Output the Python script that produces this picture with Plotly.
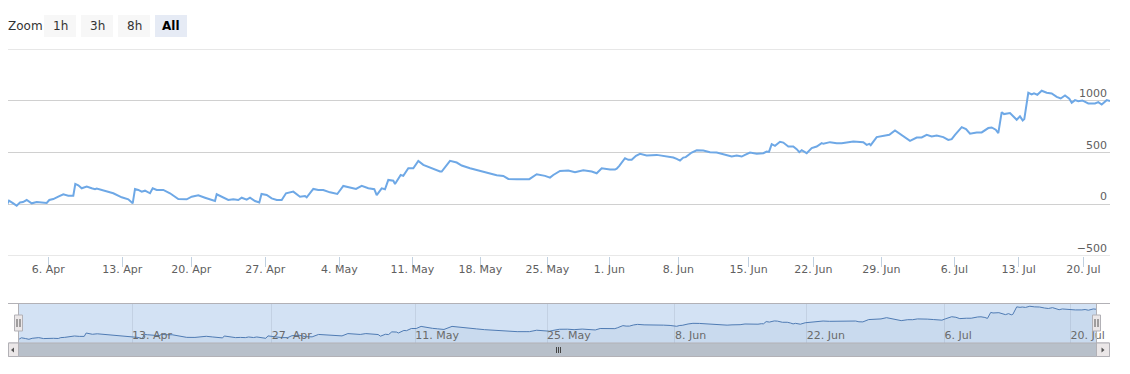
import plotly.graph_objects as go

# ---------------- data ----------------
# position along the ordinal (gap-less) time axis, and series value
obs = [0.7, 3, 7.3, 10.7, 14, 17, 20.7, 25.7, 30.7, 35.7, 40.7, 43.3, 47.3, 52.3, 57.3, 62.3,
       67.3, 69.3, 72.3, 75.7, 80.7, 85.7, 89, 90.7, 97.3, 107.3, 115.7, 122.3, 126.7, 129,
       132.3, 135.7, 139, 144, 146.7, 150.7, 157.3, 164, 172.3, 180.7, 185.7, 192.3, 199,
       205.7, 209, 210.7, 215.7, 222.3, 227.3, 232.3, 235.7, 240.7, 244, 249, 253.3, 255.5,
       260.7, 265.7, 270.7, 275.7, 280, 287.3, 294, 299, 300.7, 307.3, 312.3, 317.3, 324,
       329, 331.3, 337.3, 342.3, 350, 355.7, 362.3, 368.3, 370.7, 375.7, 379, 382.3, 387.3,
       389, 394.7, 397.3, 402.3, 407.3, 412.3, 417.3, 424, 429, 434, 435.7, 444, 450.7,
       455.7, 464, 469, 477.3, 484, 490.7, 497.3, 502.3, 510.7, 520.7, 523.3, 530.7, 539,
       544, 547.3, 554, 562.3, 569, 577.3, 582.3, 585.7, 590.7, 595.7, 604, 609, 610.7,
       613.3, 619, 622.3, 625.7, 630, 634, 640.7, 650.7, 660.7, 667.3, 670.7, 674, 677.3,
       679.7, 685.7, 690.7, 697.3, 704, 710.7, 720.7, 725.7, 730.7, 735.7, 739, 744, 750.7,
       757.3, 760.7, 763, 765.7, 769, 774, 777.3, 782.3, 787.3, 790.7, 793.3, 795.7, 800.7,
       805.7, 810.7, 815.7, 817.3, 824, 830.7, 835.7, 840.7, 847.3, 857.3, 860.7, 863.3,
       864.7, 870.7, 875.7, 879, 883.3, 889, 895.7, 900, 904, 910.7, 915.7, 920.7, 925.7,
       930.7, 937.3, 942.3, 945.7, 949, 955.7, 960, 964, 970.7, 975.7, 982.3, 985.7, 989.7,
       992.3, 995.7, 998, 1004, 1009, 1010.7, 1014, 1016.7, 1018.3, 1022.3, 1025.7, 1028,
       1031.3, 1035.7, 1040.7, 1045.7, 1050.7, 1054.7, 1059, 1063.3, 1065.7, 1069, 1072.3,
       1076.3, 1082.3, 1089, 1092.3, 1095.7, 1100.7, 1104]
values = [-8, 35, 9, -15, 18, 21, 41, 9, 21, 18, 12, 41, 50, 73, 96, 83,
          83, 196, 183, 154, 170, 154, 145, 151, 131, 106, 67, 48, 9, 148,
          138, 122, 131, 106, 154, 138, 138, 106, 50, 48, 73, 86, 63,
          41, 31, 96, 73, 41, 48, 41, 63, 44, 63, 31, 18, 99,
          89, 57, 41, 41, 106, 122, 73, 80, 67, 148, 138, 138, 115,
          106, 99, 177, 164, 148, 177, 154, 145, 89, 154, 145, 235, 228,
          196, 283, 274, 348, 348, 419, 381, 354, 338, 316, 316, 419, 403,
          374, 348, 335, 309, 293, 280, 274, 245, 242, 242, 242, 290, 274,
          257, 283, 322, 325, 309, 329, 322, 316, 299, 348, 335, 335, 344,
          371, 445, 429, 429, 468, 487, 471, 477, 461, 451, 438, 422,
          451, 455, 500, 522, 519, 503, 500, 477, 461, 471, 461, 477, 500,
          487, 493, 509, 506, 581, 564, 603, 596, 558, 558, 532, 503, 522,
          493, 542, 558, 590, 584, 600, 590, 590, 596, 606, 600, 574, 584,
          571, 649, 655, 661, 671, 713, 671, 645, 613, 645, 645, 671, 655,
          664, 649, 622, 629, 671, 745, 726, 681, 694, 694, 736, 742, 720,
          688, 890, 871, 881, 826, 816, 849, 810, 823, 1077, 1061, 1071,
          1058, 1097, 1077, 1071, 1038, 1022, 1051, 1019, 981, 1006, 996,
          1003, 974, 974, 987, 964, 1006, 996, 1006]

x_tick_pos = [42.3, 116.3, 185.3, 259.3, 333.3, 406.3, 474.3, 541.3, 603.3, 672.3,
              742.7, 807.3, 875.3, 948.3, 1012.7, 1077.3]
x_tick_labels = ["6. Apr", "13. Apr", "20. Apr", "27. Apr", "4. May", "11. May", "18. May",
                 "25. May", "1. Jun", "8. Jun", "15. Jun", "22. Jun", "29. Jun", "6. Jul",
                 "13. Jul", "20. Jul"]
nav_tick_pos = x_tick_pos[1::2]
nav_tick_labels = x_tick_labels[1::2]
y_ticks = [-500, 0, 500, 1000, 1500]
y_tick_labels = ["\u2212500", "0", "500", "1000", ""]
zoom_label = "Zoom"
zoom_buttons = ["1h", "3h", "8h", "All"]
selected_button = "All"

# ---------------- geometry helpers (screen pixels -> paper) ----------------
# the page body adds an 8px offset; the figure is sized to stay inside the window
OFF = 8
W, H = 1114, 358
ML, MR, MT, MB = 0, 12, 41, 9
PW, PH = W - ML - MR, H - MT - MB


def px(xs):
    return (xs - OFF - ML) / PW


def py(ys):
    return (H - MB - (ys - OFF)) / PH


FONT = "DejaVu Sans"
OUTLINE = "#b2b1b6"
GRID = "#D0D0D0"

fig = go.Figure()

# main series
fig.add_trace(go.Scatter(x=obs, y=values, mode="lines", xaxis="x", yaxis="y",
                         line=dict(color="#6ea8e6", width=2), hoverinfo="skip",
                         cliponaxis=False))
# navigator area baseline + series
nav_floor = -140
fig.add_trace(go.Scatter(x=[obs[0], obs[-1]], y=[nav_floor, nav_floor], mode="lines",
                         xaxis="x2", yaxis="y2", line=dict(width=0, color="rgba(0,0,0,0)"),
                         hoverinfo="skip"))
fig.add_trace(go.Scatter(x=obs, y=values, mode="lines", xaxis="x2", yaxis="y2",
                         fill="tonexty", fillcolor="rgba(69,114,167,0.07)",
                         line=dict(color="#4f7bb3", width=1), hoverinfo="skip"))

shapes = []
annotations = []

# gridlines at the edges of the value range (plotly skips them at the border)
for yv in (y_ticks[0], y_ticks[-1]):
    shapes.append(dict(type="line", xref="paper", yref="y", x0=0, x1=1, y0=yv, y1=yv,
                       line=dict(color=GRID, width=1), layer="below"))

# navigator mask (selected range)
shapes.append(dict(type="rect", xref="paper", yref="paper", x0=px(18.5), x1=px(1096.5),
                   y0=py(343), y1=py(303), fillcolor="#d3e2f4", line=dict(width=0),
                   layer="below"))
# navigator outline
shapes.append(dict(type="line", xref="paper", yref="paper", x0=px(8), x1=px(1110),
                   y0=py(303.5), y1=py(303.5), line=dict(color=OUTLINE, width=1)))
for xe in (18.5, 1096.5):
    shapes.append(dict(type="line", xref="paper", yref="paper", x0=px(xe), x1=px(xe),
                       y0=py(303.5), y1=py(343), line=dict(color=OUTLINE, width=1)))

# scrollbar
shapes.append(dict(type="rect", xref="paper", yref="paper", x0=px(8.5), x1=px(1109.5),
                   y0=py(356.5), y1=py(343), fillcolor="#b8c0ca",
                   line=dict(color=OUTLINE, width=1)))
for xa, xb in ((8.5, 18.5), (1096.5, 1109.5)):
    shapes.append(dict(type="rect", xref="paper", yref="paper", x0=px(xa), x1=px(xb),
                       y0=py(356.5), y1=py(343), fillcolor="#ebe7e8",
                       line=dict(color=OUTLINE, width=1)))
# arrows
shapes.append(dict(type="path", xref="paper", yref="paper",
                   path="M {} {} L {} {} L {} {} Z".format(px(14), py(347.5), px(11), py(350),
                                                          px(14), py(352.5)),
                   fillcolor="#555", line=dict(width=0)))
shapes.append(dict(type="path", xref="paper", yref="paper",
                   path="M {} {} L {} {} L {} {} Z".format(px(1101.5), py(347.5), px(1104.5),
                                                          py(350), px(1101.5), py(352.5)),
                   fillcolor="#555", line=dict(width=0)))
# scrollbar grip
for gx in (556.5, 558.5, 560.5):
    shapes.append(dict(type="line", xref="paper", yref="paper", x0=px(gx), x1=px(gx),
                       y0=py(347), y1=py(353), line=dict(color="#444", width=1)))

# navigator handles
for hc in (18.5, 1096.5):
    shapes.append(dict(type="rect", xref="paper", yref="paper", x0=px(hc - 4), x1=px(hc + 4),
                       y0=py(331), y1=py(315), fillcolor="#ebe7e8",
                       line=dict(color=OUTLINE, width=1)))
    for g in (-1.5, 1.5):
        shapes.append(dict(type="line", xref="paper", yref="paper", x0=px(hc + g),
                           x1=px(hc + g), y0=py(319), y1=py(327),
                           line=dict(color="#555", width=1)))

# range selector
annotations.append(dict(text=zoom_label, xref="paper", yref="paper", x=px(6), y=py(26),
                        xanchor="left", yanchor="middle", showarrow=False,
                        font=dict(family=FONT, size=12, color="#333333")))
bx = 44
for lab in zoom_buttons:
    sel = lab == selected_button
    shapes.append(dict(type="rect", xref="paper", yref="paper", x0=px(bx), x1=px(bx + 32),
                       y0=py(37), y1=py(15), fillcolor="#e6ebf5" if sel else "#f7f7f7",
                       line=dict(width=0)))
    annotations.append(dict(text="<b>%s</b>" % lab if sel else lab, xref="paper", yref="paper",
                            x=px(bx + 16), y=py(26), xanchor="center", yanchor="middle",
                            showarrow=False,
                            font=dict(family=FONT, size=12,
                                      color="#000000" if sel else "#333333")))
    bx += 37

fig.update_layout(
    width=W, height=H,
    margin=dict(l=ML, r=MR, t=MT, b=MB, pad=0),
    paper_bgcolor="white", plot_bgcolor="rgba(0,0,0,0)",
    showlegend=False, hovermode=False,
    shapes=shapes, annotations=annotations,
    xaxis=dict(domain=[0, 1], range=[2, 1104], anchor="y", tickmode="array",
               tickvals=x_tick_pos, ticktext=x_tick_labels, ticks="outside", ticklen=10,
               tickcolor="#C0D0E0", tickwidth=1, showgrid=False, zeroline=False,
               showline=False, ticklabelstandoff=-7, ticklabeloverflow="allow",
               tickfont=dict(family=FONT, size=11, color="#606060")),
    yaxis=dict(domain=[py(256), 1], range=[-500, 1500], anchor="x", side="right",
               tickmode="array", tickvals=y_ticks, ticktext=y_tick_labels,
               ticklabelposition="inside top", ticks="", showgrid=True,
               gridcolor=GRID, gridwidth=1, zeroline=False, showline=False,
               ticklabeloverflow="allow",
               tickfont=dict(family=FONT, size=11, color="#606060")),
    xaxis2=dict(domain=[px(18.5), px(1096.5)], range=[0, 1104], anchor="y2",
                tickmode="array", tickvals=nav_tick_pos, ticktext=nav_tick_labels,
                ticklabelposition="inside right", ticks="", showgrid=True,
                gridcolor="#c3d1e3", gridwidth=1, zeroline=False, showline=False,
                ticklabeloverflow="allow", ticklabelstandoff=-4,
                tickfont=dict(family=FONT, size=11, color="#6a6a6a")),
    yaxis2=dict(domain=[py(343), py(303.5)], range=[nav_floor, 1190], anchor="x2",
                showgrid=False, showticklabels=False, zeroline=False, showline=False,
                ticks=""),
)

fig.write_html("out.html")
